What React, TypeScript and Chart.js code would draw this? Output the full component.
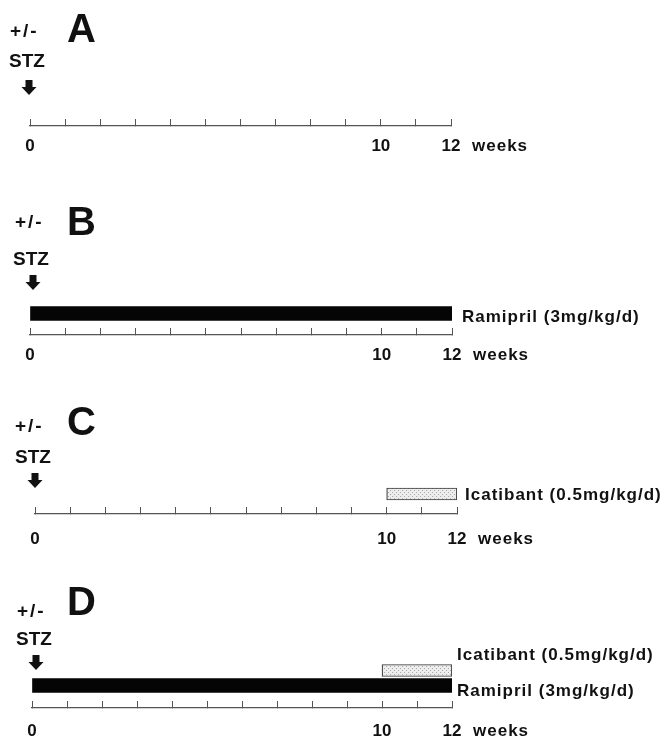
import React, { useEffect, useRef } from 'react';
import { Chart, registerables } from 'chart.js';

Chart.register(...registerables);

// ---------- data ----------
const weekMin = 0;
const weekMax = 12;
const labeledWeeks = [0, 10, 12];
const unitLabel = 'weeks';
const panelLetters = ['A', 'B', 'C', 'D'];
const injectionLabel = '+/-';
const injectionAgent = 'STZ';
const ramiprilLabel = 'Ramipril (3mg/kg/d)';
const icatibantLabel = 'Icatibant (0.5mg/kg/d)';
const panelTreatments: string[][] = [[], [ramiprilLabel], [icatibantLabel], [icatibantLabel, ramiprilLabel]];
const panelStartWeeks: number[][] = [[], [0], [10], [10, 0]];
const panelEndWeeks: number[][] = [[], [12], [12], [12, 12]];

// ---------- styles / layout ----------
const FONT = '"Liberation Sans", Arial, Helvetica, sans-serif';
const INK = '#111111';
const W = 672;
const TICK_LEN = -7;
const TICK_FONT = 17;

type Layout = {
  top: number; xh: number; axisY: number; chartTop: number; x0: number; x12: number;
  yMin: number; yMax: number; labelOffset: number;
  letter: [number, number]; pm: [number, number]; stz: [number, number]; arrow: [number, number];
  dx: number[]; dy: number[];
};

const layouts: Layout[] = [
  { top: 0, xh: 40, axisY: 126, chartTop: 90, x0: 30, x12: 451, yMin: -1, yMax: 1, labelOffset: 20,
    letter: [67, 42], pm: [10, 32], stz: [9, 62], arrow: [29, 80], dx: [], dy: [] },
  { top: 180, xh: 35, axisY: 335, chartTop: 292, x0: 30, x12: 452, yMin: -1, yMax: 1, labelOffset: 20,
    letter: [67, 235], pm: [15, 223], stz: [13, 260], arrow: [33, 275], dx: [10], dy: [3.5] },
  { top: 372, xh: 40, axisY: 514, chartTop: 474, x0: 35, x12: 457, yMin: -1, yMax: 1, labelOffset: 25,
    letter: [67, 435], pm: [15, 427], stz: [15, 458], arrow: [35, 473], dx: [8], dy: [1] },
  { top: 560, xh: 31, axisY: 708, chartTop: 655.5, x0: 32, x12: 452, yMin: -1, yMax: 2.5, labelOffset: 23,
    letter: [67, 615], pm: [17, 612], stz: [16, 640], arrow: [36, 655], dx: [5, 5], dy: [-15, 5.5] },
];

function makeStipple(): CanvasPattern | string {
  const c = document.createElement('canvas');
  c.width = 4; c.height = 4;
  const g = c.getContext('2d');
  if (!g) return '#e0e0e0';
  g.fillStyle = '#ededed';
  g.fillRect(0, 0, 4, 4);
  g.fillStyle = '#a9a9a9';
  g.fillRect(0, 0, 1, 1);
  g.fillRect(2, 2, 1, 1);
  return g.createPattern(c, 'repeat') || '#e0e0e0';
}

function Panel({ index }: { index: number }) {
  const ref = useRef<HTMLCanvasElement>(null);
  const L = layouts[index];
  const height = L.axisY + L.xh - L.top;

  useEffect(() => {
    if (!ref.current) return;
    const stipple = makeStipple();
    const names = panelTreatments[index];
    const datasets = names.map((name, i) => {
      const isRamipril = name === ramiprilLabel;
      return {
        label: name,
        data: [{ x: [panelStartWeeks[index][i], panelEndWeeks[index][i]], y: i }],
        backgroundColor: isRamipril ? '#050505' : stipple,
        borderColor: isRamipril ? '#050505' : '#3a3a3a',
        borderWidth: isRamipril ? 0 : 1.2,
        borderSkipped: false,
        grouped: false,
        barThickness: isRamipril ? 14 : 12,
      };
    });

    const decor = {
      id: 'decor',
      afterDraw(chart: any) {
        const ctx: CanvasRenderingContext2D = chart.ctx;
        const off = L.top;
        ctx.save();
        ctx.fillStyle = INK;
        ctx.textAlign = 'left';
        // panel letter
        ctx.font = `bold 40px ${FONT}`;
        ctx.textBaseline = 'alphabetic';
        ctx.fillText(panelLetters[index], L.letter[0], L.letter[1] - off);
        // +/-
        ctx.textBaseline = 'middle';
        ctx.font = `bold 19px ${FONT}`;
        (ctx as any).letterSpacing = '2px';
        ctx.fillText(injectionLabel, L.pm[0], L.pm[1] - off);
        (ctx as any).letterSpacing = '0px';
        // STZ
        ctx.font = `bold 19px ${FONT}`;
        ctx.fillText(injectionAgent, L.stz[0], L.stz[1] - off);
        // arrow
        const cx = L.arrow[0];
        const t = L.arrow[1] - off;
        ctx.beginPath();
        ctx.moveTo(cx - 3.5, t);
        ctx.lineTo(cx + 3.5, t);
        ctx.lineTo(cx + 3.5, t + 7);
        ctx.lineTo(cx + 7.5, t + 7);
        ctx.lineTo(cx, t + 15);
        ctx.lineTo(cx - 7.5, t + 7);
        ctx.lineTo(cx - 3.5, t + 7);
        ctx.closePath();
        ctx.fill();
        // unit label after last tick
        const xs = chart.scales.x;
        ctx.font = `bold ${TICK_FONT}px ${FONT}`;
        (ctx as any).letterSpacing = '1px';
        ctx.fillText(unitLabel, xs.getPixelForValue(weekMax) + 21, L.axisY - off + L.labelOffset);
        // treatment labels
        chart.data.datasets.forEach((ds: any, d: number) => {
          const meta = chart.getDatasetMeta(d);
          const el = meta.data[0];
          if (!el) return;
          ctx.fillText(ds.label, el.x + L.dx[d], el.y + L.dy[d]);
        });
        ctx.restore();
      },
    };

    const chart = new Chart(ref.current, {
      type: 'bar',
      data: { datasets: datasets as any },
      plugins: [decor],
      options: {
        indexAxis: 'y',
        animation: false,
        responsive: false,
        maintainAspectRatio: false,
        events: [],
        layout: {
          padding: { left: L.x0, right: W - L.x12, top: L.chartTop - L.top, bottom: 0 },
        },
        plugins: { legend: { display: false }, tooltip: { enabled: false }, title: { display: false } },
        scales: {
          x: {
            type: 'linear',
            position: 'bottom',
            min: weekMin,
            max: weekMax,
            offset: false,
            bounds: 'data',
            afterFit: (s: any) => { s.height = L.xh; },
            grid: { drawOnChartArea: false, drawTicks: true, tickLength: TICK_LEN, color: '#555555', lineWidth: 1 },
            border: { display: true, color: '#555555', width: 1.3 },
            ticks: {
              stepSize: 1,
              autoSkip: false,
              maxRotation: 0,
              padding: L.labelOffset + 7 - (TICK_FONT * 1.2) / 2,
              color: INK,
              font: { family: FONT, size: TICK_FONT, weight: 'bold' },
              callback: (v: any) => (labeledWeeks.includes(Number(v)) ? String(v) : ''),
            },
          },
          y: {
            type: 'linear',
            display: false,
            reverse: true,
            bounds: 'data',
            offset: false,
            min: L.yMin,
            max: L.yMax,
            ticks: { stepSize: 0.5 },
          },
        },
      } as any,
    });
    return () => chart.destroy();
  }, [index]);

  return (
    <canvas
      ref={ref}
      width={W}
      height={height}
      style={{ position: 'absolute', left: 0, top: L.top, width: W, height }}
    />
  );
}

export default function App() {
  return (
    <div style={{ position: 'fixed', left: 0, top: 0, width: W, height: 739, overflow: 'hidden', background: '#ffffff' }}>
      {panelLetters.map((_, i) => (
        <Panel key={i} index={i} />
      ))}
    </div>
  );
}
